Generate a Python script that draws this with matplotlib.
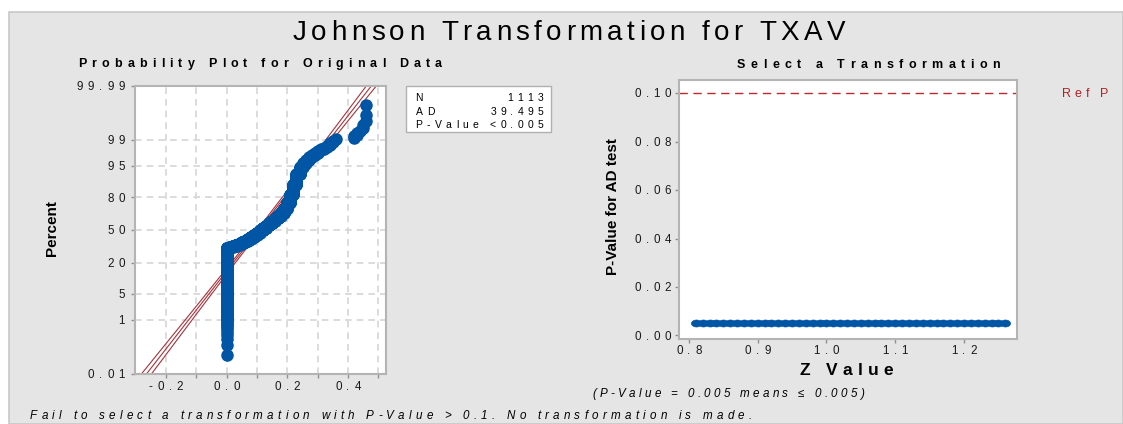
import matplotlib
matplotlib.use("Agg")
import matplotlib.pyplot as plt
import numpy as np
from statistics import NormalDist
from matplotlib.patches import Rectangle
from matplotlib.font_manager import FontProperties, findfont
from matplotlib import ft2font

plt.rcParams['font.family'] = ['Liberation Sans', 'DejaVu Sans']

# ---------------- data ----------------
# original data (TXAV) as a frequency table: distinct value -> count (N = 1113)
value_levels = [0.00, 0.01, 0.02, 0.03, 0.04, 0.05, 0.06, 0.07, 0.08, 0.09,
                0.10, 0.11, 0.12, 0.13, 0.14, 0.15, 0.16, 0.17, 0.18, 0.19,
                0.20, 0.21, 0.22, 0.23, 0.24, 0.25, 0.26, 0.27, 0.28, 0.29,
                0.30, 0.31, 0.32, 0.33, 0.34, 0.35, 0.36,
                0.42, 0.43, 0.44, 0.45, 0.46]
value_counts = [362, 9, 9, 11, 13, 16, 17, 20, 22, 23,
                24, 27, 27, 28, 26, 27, 27, 28, 32, 42,
                56, 67, 66, 51, 25, 11, 8, 6, 4, 3,
                4, 2, 2, 2, 3, 2, 1,
                2, 2, 1, 2, 3]

# normal fit shown in the probability plot
fit_mean = 0.106
fit_sd = 0.0996

stat_labels = ["N", "AD", "P-Value"]
stat_values = ["1113", "39.495", "<0.005"]

percent_ticks = [0.01, 1, 5, 20, 50, 80, 95, 99, 99.99]
percent_labels = ["0.01", "1", "5", "20", "50", "80", "95", "99", "99.99"]
x_ticks_left = [-0.2, 0.0, 0.2, 0.4]
x_tick_labels_left = ["-0.2", "0.0", "0.2", "0.4"]
x_grid_left = [-0.2, -0.1, 0.0, 0.1, 0.2, 0.3, 0.4, 0.5]

# transformation selection: Z value vs P-value for AD test
z_values = [0.81, 0.82, 0.83, 0.84, 0.85, 0.86, 0.87, 0.88, 0.89, 0.90,
            0.91, 0.92, 0.93, 0.94, 0.95, 0.96, 0.97, 0.98, 0.99, 1.00,
            1.01, 1.02, 1.03, 1.04, 1.05, 1.06, 1.07, 1.08, 1.09, 1.10,
            1.11, 1.12, 1.13, 1.14, 1.15, 1.16, 1.17, 1.18, 1.19, 1.20,
            1.21, 1.22, 1.23, 1.24, 1.25, 1.26]
p_values = [0.005, 0.005, 0.005, 0.005, 0.005, 0.005, 0.005, 0.005, 0.005, 0.005,
            0.005, 0.005, 0.005, 0.005, 0.005, 0.005, 0.005, 0.005, 0.005, 0.005,
            0.005, 0.005, 0.005, 0.005, 0.005, 0.005, 0.005, 0.005, 0.005, 0.005,
            0.005, 0.005, 0.005, 0.005, 0.005, 0.005, 0.005, 0.005, 0.005, 0.005,
            0.005, 0.005, 0.005, 0.005, 0.005, 0.005]
ref_p = 0.10
y_ticks_right = [0.00, 0.02, 0.04, 0.06, 0.08, 0.10]
y_tick_labels_right = ["0.00", "0.02", "0.04", "0.06", "0.08", "0.10"]
x_ticks_right = [0.8, 0.9, 1.0, 1.1, 1.2]
x_tick_labels_right = ["0.8", "0.9", "1.0", "1.1", "1.2"]

# ---------------- helpers ----------------
W, H = 1123, 424
DPI = 100

try:
    NOHINT = ft2font.LoadFlags.NO_HINTING
except AttributeError:
    NOHINT = ft2font.LOAD_NO_HINTING

_fonts = {}


def advances(s, fp):
    path = findfont(fp)
    if path not in _fonts:
        _fonts[path] = ft2font.FT2Font(path)
    font = _fonts[path]
    font.set_size(fp.get_size_in_points(), DPI)
    out = []
    for c in s:
        g = font.load_char(ord(c), flags=NOHINT)
        out.append(g.linearHoriAdvance / 65536.0)
    return out


fig = plt.figure(figsize=(W / DPI, H / DPI), dpi=DPI)
fig.patch.set_facecolor('white')


def spaced(x, y, s, size, weight='normal', style='normal', color='black',
           gap=4.5, width=None, ha='center'):
    """Letter-spaced text (Minitab look); x, y in pixels from the top-left,
    y = vertical centre of the capitals."""
    fp = FontProperties(family='Liberation Sans', weight=weight, style=style, size=size)
    adv = advances(s, fp)
    if width is not None and len(s) > 1:
        gap = (width - sum(adv)) / (len(s) - 1)
    total = sum(adv) + gap * (len(s) - 1)
    if ha == 'center':
        pen = x - total / 2
    elif ha == 'right':
        pen = x - total
    else:
        pen = x
    em = size * DPI / 72.0
    ybase = y + 0.358 * em
    for c, a in zip(s, adv):
        if c != ' ':
            fig.text(pen / W, 1 - ybase / H, c, fontproperties=fp, color=color,
                     ha='left', va='baseline')
        pen += a + gap


def to_px(ax, x, y):
    dx, dy = ax.transData.transform((x, y))
    return dx, H - dy


BLUE = '#0055a5'
DARKRED = '#a8323a'
REFRED = '#c0282d'
SPINE = '#b4b4b4'
TICKTXT = '#1a1a1a'

# slightly wide elliptical marker for the dense P-value band
_t = np.linspace(0, 2 * np.pi, 32)
WIDE_DOT = np.column_stack([1.45 * np.cos(_t), np.sin(_t)])

fig.add_artist(Rectangle((9 / W, 0), 1 - 9 / W, 1 - 12 / H, transform=fig.transFigure,
                         facecolor='#e5e5e5', edgecolor='#c8c8c8', lw=1.2, zorder=0))

spaced(569, 30, "Johnson Transformation for TXAV", 20, width=552)


def style(ax):
    ax.set_facecolor('white')
    for s in ax.spines.values():
        s.set_color(SPINE)
        s.set_linewidth(1.5)
    ax.tick_params(which='both', direction='out', color='#909090', length=3,
                   width=1, labelleft=False, labelbottom=False)


# ---------------- left: probability plot ----------------
nd = NormalDist()
axL = fig.add_axes([135 / W, 1 - 374 / H, (386 - 135) / W, (374 - 86) / H])
style(axL)
zlo, zhi = nd.inv_cdf(0.0001), nd.inv_cdf(0.9999)
axL.set_xlim(-0.302, 0.525)
axL.set_ylim(zlo, zhi)

data_sorted = np.repeat(np.array(value_levels), np.array(value_counts))
n = len(data_sorted)
ranks = np.arange(1, n + 1)
pos = (ranks - 0.3) / (n + 0.4)
zpos = np.array([nd.inv_cdf(p) for p in pos])

ytick_z = [nd.inv_cdf(p / 100) for p in percent_ticks]
for v in x_grid_left:
    axL.axvline(v, color='#d6d6d6', lw=1.2, ls=(0, (4, 3)), zorder=0)
for z in ytick_z:
    axL.axhline(z, color='#d6d6d6', lw=1.2, ls=(0, (4, 3)), zorder=0)

zz = np.linspace(zlo - 0.3, zhi + 0.3, 200)
xc = fit_mean + zz * fit_sd
half = 1.96 * fit_sd * np.sqrt(1.0 / n + zz ** 2 / (2.0 * n))
for xl in (xc - half, xc, xc + half):
    axL.plot(xl, zz, color=DARKRED, lw=0.8, zorder=2)

axL.plot(data_sorted, zpos, 'o', ms=8, color=BLUE, mec=BLUE, zorder=3)

axL.set_yticks(ytick_z)
axL.set_xticks(x_ticks_left)
axL.set_xticks(x_grid_left, minor=True)

for z, lab in zip(ytick_z, percent_labels):
    px, py = to_px(axL, axL.get_xlim()[0], z)
    spaced(px - 10, py, lab, 8.4, gap=4.8, ha='right', color=TICKTXT)
for v, lab in zip(x_ticks_left, x_tick_labels_left):
    px, py = to_px(axL, v, zlo)
    spaced(px, py + 11.5, lab, 8.4, gap=4.8, color=TICKTXT)

spaced(260, 63, "Probability Plot for Original Data", 9, weight='bold', width=364)
fig.text(52 / W, 1 - 228 / H, "Percent", rotation=90, ha='center', va='center',
         fontsize=11, fontweight='bold')

# stats box
fig.add_artist(Rectangle((406 / W, 1 - 132 / H), (551 - 406) / W, (132 - 86) / H,
                         transform=fig.transFigure, facecolor='white',
                         edgecolor='#b0b0b0', lw=1.0, zorder=1))
for lab, val, yy in zip(stat_labels, stat_values, [97, 111, 124]):
    spaced(415.5, yy, lab, 7.5, gap=4.3, ha='left')
    spaced(543.5, yy, val, 7.5, gap=4.3, ha='right')

# ---------------- right: select a transformation ----------------
axR = fig.add_axes([679.3 / W, 1 - 339 / H, (1016.7 - 679.3) / W, (339 - 80) / H])
style(axR)
axR.set_xlim(0.786, 1.2766)
axR.set_ylim(-0.0015, 0.1055)
axR.axhline(ref_p, color=REFRED, lw=1.0, ls=(0, (6, 4)), zorder=1)
axR.plot(z_values, p_values, ls='none', marker=WIDE_DOT, ms=7.4, color=BLUE,
         mec=BLUE, mew=0.4, zorder=3, clip_on=False)
axR.set_yticks(y_ticks_right)
axR.set_xticks(x_ticks_right)

for v, lab in zip(y_ticks_right, y_tick_labels_right):
    px, py = to_px(axR, axR.get_xlim()[0], v)
    spaced(px - 8, py, lab, 8.4, gap=4.8, ha='right', color=TICKTXT)
for v, lab in zip(x_ticks_right, x_tick_labels_right):
    px, py = to_px(axR, v, axR.get_ylim()[0])
    spaced(px, py + 11, lab, 8.4, gap=4.8, color=TICKTXT)

spaced(868.5, 63.5, "Select a Transformation", 9, weight='bold', width=263)
spaced(1062, 93, "Ref P", 9, width=46, ha='left', color='#b22222')
fig.text(613 / W, 1 - 207 / H, "P-Value for AD test", rotation=90, ha='center',
         va='center', fontsize=11, fontweight='bold')
spaced(846.5, 369, "Z Value", 12.5, weight='bold', width=93)

spaced(728, 393, "(P-Value = 0.005 means \u2264 0.005)", 8.4, style='italic', width=272)
spaced(30, 415, "Fail to select a transformation with P-Value > 0.1. No transformation is made.",
       8.4, style='italic', width=722, ha='left')

fig.savefig("out.png", dpi=DPI, facecolor=fig.get_facecolor())
